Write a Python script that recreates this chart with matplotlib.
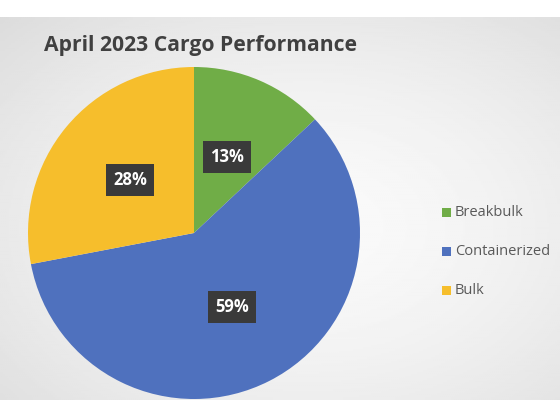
import numpy as np
import matplotlib.pyplot as plt
from matplotlib.patches import Rectangle

categories = ["Breakbulk", "Containerized", "Bulk"]
shares = [13, 59, 28]
colors = ["#70AD47", "#4F71BE", "#F6BE2C"]
title = "April 2023 Cargo Performance"

W, H = 560, 400
fig = plt.figure(figsize=(W / 100, H / 100), dpi=100)
fig.patch.set_facecolor("white")

# chart area background: soft radial grey gradient under a white strip
bg = fig.add_axes([0, 0, 1, (H - 17) / H])
yy, xx = np.mgrid[0:1:200j, 0:1:280j]
r = np.sqrt(((xx - 0.55) / 0.9) ** 2 + ((yy - 0.45) / 0.9) ** 2)
shade = 0.98 - 0.15 * np.clip(r, 0, 1) ** 1.6
bg.imshow(shade, cmap="gray", vmin=0, vmax=1, aspect="auto",
          extent=[0, 1, 0, 1], origin="lower")
bg.axis("off")

# pie
cx, cy, rad = 194, 233, 166
ax = fig.add_axes([(cx - rad) / W, (H - cy - rad) / H, 2 * rad / W, 2 * rad / H])
wedges, texts, autotexts = ax.pie(
    shares, colors=colors, startangle=90, counterclock=False,
    autopct=lambda p: f"{round(p)}%", pctdistance=0.5, radius=1,
    wedgeprops=dict(linewidth=0))
for t in autotexts:
    t.set_color("white")
    t.set_fontsize(12)
    t.set_fontweight("bold")
    t.set_family(["Open Sans", "DejaVu Sans"])
    t.set_bbox(dict(boxstyle="square,pad=0.42", facecolor="#3A3A3A",
                    edgecolor="none"))
ax.set_xlim(-1, 1)
ax.set_ylim(-1, 1)
ax.set_aspect("equal")
ax.axis("off")

fig.text(44 / W, 1 - 46 / H, title, fontsize=15.2, fontweight="bold",
         color="#404040", family=["Open Sans", "DejaVu Sans"],
         ha="left", va="center")

# legend
for i, (name, c) in enumerate(zip(categories, colors)):
    y = 213 + i * 38.5
    fig.patches.append(Rectangle((442 / W, 1 - (y + 4.5) / H), 9 / W, 9 / H,
                                 transform=fig.transFigure, facecolor=c,
                                 edgecolor="none"))
    fig.text(455 / W, 1 - y / H, name, fontsize=10.5, color="#595959",
             family=["Open Sans", "DejaVu Sans"], ha="left", va="center")

fig.savefig("out.png", dpi=100, facecolor="white")
